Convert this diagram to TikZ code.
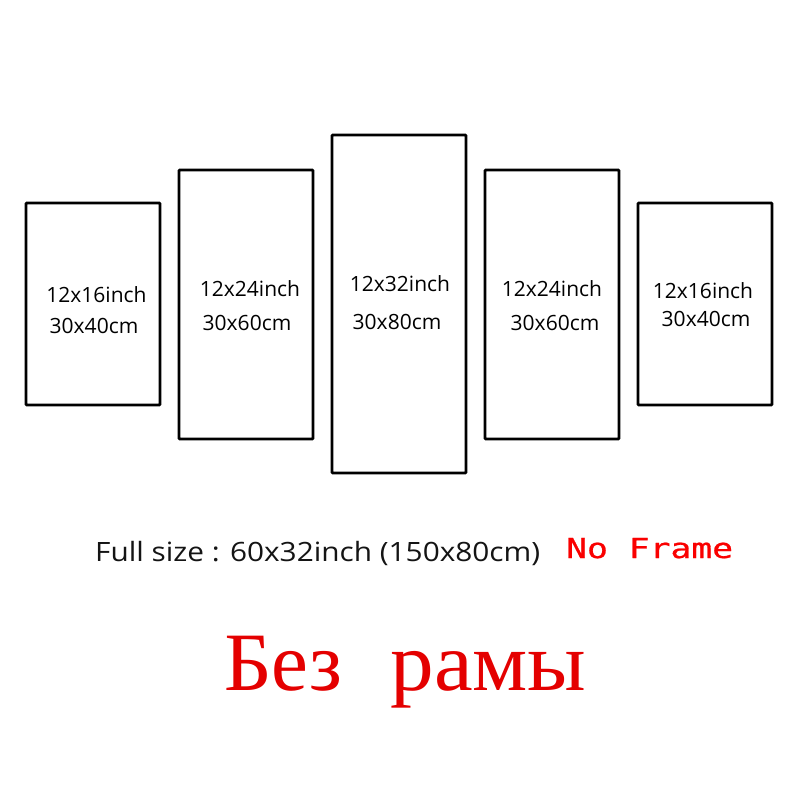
\documentclass[tikz,border=0pt]{standalone}
\usepackage{fontspec}
\setmainfont{Open Sans}
\newfontfamily\fullfont{Open Sans}
\newfontfamily\nfmono[FakeBold=0.8]{DejaVu Sans Mono}
\newfontfamily\rusfont{Liberation Serif}
\definecolor{nfred}{RGB}{250,0,0}
\definecolor{rured}{RGB}{228,0,0}
\tikzset{
  panel/.style={draw=black, line width=2.7pt, rounded corners=0.8pt},
  sizetxt/.style={anchor=base, inner sep=0pt, font=\fontsize{21pt}{21pt}\selectfont, text=black}
}
\begin{document}
\begin{tikzpicture}[x=1pt,y=-1pt]
\useasboundingbox[fill=white] (0,0) rectangle (800,800);
% panels
\draw[panel] (26,203) rectangle (160,405);
\draw[panel] (179,170) rectangle (313,439);
\draw[panel] (332,135) rectangle (466,473);
\draw[panel] (485,170) rectangle (619,439);
\draw[panel] (638,203) rectangle (772,405);
% labels
\node[sizetxt] (a1) at (96.5,302) {12x16inch};
\node[sizetxt] (a2) at (94,333) {30x40cm};
\node[sizetxt] (b1) at (250,296.5) {12x24inch};
\node[sizetxt] (b2) at (247,330.5) {30x60cm};
\node[sizetxt] (c1) at (400,291.5) {12x32inch};
\node[sizetxt] (c2) at (397,329.5) {30x80cm};
\node[sizetxt] (d1) at (552,296.5) {12x24inch};
\node[sizetxt] (d2) at (555,330.5) {30x60cm};
\node[sizetxt] (e1) at (703,298.5) {12x16inch};
\node[sizetxt] (e2) at (706,326.5) {30x40cm};
% bottom texts
\node[anchor=base west, inner sep=0pt, text=black!92] (full) at (95,561.5)
  {\scalebox{1.12}[1]{\fullfont\fontsize{26.6pt}{26.6pt}\selectfont Full size : 60x32inch (150x80cm)}};
\node[anchor=base west, inner sep=0pt, text=nfred] (nf) at (566,558)
  {\scalebox{1.26}[1]{\nfmono\fontsize{27.5pt}{27.5pt}\selectfont No Frame}};
\node[anchor=base west, inner sep=0pt, text=rured] (ru) at (224,690)
  {\rusfont\fontsize{83pt}{83pt}\selectfont Без\hspace{48pt}\scalebox{1.05}[1]{рамы}};
\end{tikzpicture}
\end{document}
